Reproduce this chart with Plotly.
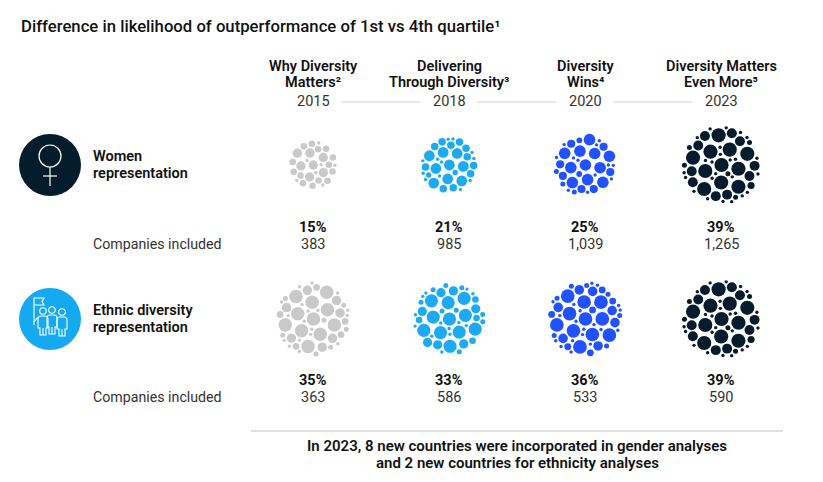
import numpy as np
import plotly.graph_objects as go

# ---------------- data ----------------
study_titles = [("Why Diversity", "Matters²"),
                ("Delivering", "Through Diversity³"),
                ("Diversity", "Wins⁴"),
                ("Diversity Matters", "Even More⁵")]
years = ["2015", "2018", "2020", "2023"]
women_pct = [15, 21, 25, 39]
women_companies = ["383", "985", "1,039", "1,265"]
ethnic_pct = [35, 33, 36, 39]
ethnic_companies = ["363", "586", "533", "590"]
row_labels = [("Women", "representation"), ("Ethnic diversity", "representation")]
title_text = "Difference in likelihood of outperformance of 1st vs 4th quartile¹"
foot_lines = ["In 2023, 8 new countries were incorporated in gender analyses",
              "and 2 new countries for ethnicity analyses"]

# ---------------- style / layout ----------------
W, H = 823, 482
OFF = 8  # page body margin compensation
colors = ["#c9c9c9", "#1cabf2", "#2251ff", "#051c2c"]
col_x = [313, 449, 585, 721]
row_y = [165, 319]
pct_y = [228, 381]
num_y = [245, 398]
R_SCALE = 6.4
FONT = "Roboto"
TXT = "#111111"


def pack(R):
    big = 0.16 * R + 0.7
    levels = [big, 0.7 * big, 0.5 * big, 2.5, 1.7]
    gap = 1.1
    n = 3000
    idx = np.arange(n)
    rr = R * np.sqrt((idx + 0.5) / n)
    th = idx * 2.399963229728653
    cx = rr * np.cos(th)
    cy = rr * np.sin(th)
    P = np.zeros((2000, 3))
    k = 0
    for li, r in enumerate(levels):
        for x, y in zip(cx, cy):
            if np.hypot(x, y) + r > R:
                continue
            if k:
                d = np.hypot(P[:k, 0] - x, P[:k, 1] - y)
                need = P[:k, 2] + r + gap
                if li == 0:
                    need = need + 2.0
                if np.any(d < need):
                    continue
            P[k] = (x, y, r)
            k += 1
    return P[:k]


fig = go.Figure()

for ri, pcts in enumerate([women_pct, ethnic_pct]):
    for ci, p in enumerate(pcts):
        R = R_SCALE * np.sqrt(p)
        P = pack(R)
        fig.add_trace(go.Scatter(
            x=col_x[ci] + P[:, 0], y=row_y[ri] + P[:, 1], mode="markers",
            marker=dict(size=2 * P[:, 2], color=colors[ci], line=dict(width=0), opacity=1),
            hoverinfo="skip", showlegend=False))

shapes = []
ann = []


def text(x, y, s, size=14, weight=400, xanchor="center", color=TXT):
    ann.append(dict(x=x, y=y, xref="x", yref="y", text=s, showarrow=False,
                    xanchor=xanchor, yanchor="middle",
                    font=dict(family=FONT, size=size, color=color, weight=weight)))


# title
text(19, 26, title_text, size=16.7, weight=500, xanchor="left")

# column headers
for ci in range(4):
    text(col_x[ci], 66, study_titles[ci][0], size=14.5, weight=600)
    text(col_x[ci], 82, study_titles[ci][1], size=14.5, weight=600)
    text(col_x[ci], 101, years[ci], size=14.5, weight=400, color="#333333")
for ci in range(3):
    shapes.append(dict(type="line", xref="x", yref="y", x0=col_x[ci] + 28, x1=col_x[ci + 1] - 29,
                       y0=102, y1=102, line=dict(color="#d0d0d0", width=1.2)))

# row labels and values
for ri in range(2):
    text(91, row_y[ri] - 9, row_labels[ri][0], size=14.5, weight=600, xanchor="left")
    text(91, row_y[ri] + 8, row_labels[ri][1], size=14.5, weight=600, xanchor="left")
    text(91, num_y[ri] - 1, "Companies included", size=14.2, weight=400, xanchor="left", color="#333333")
    pcts = [women_pct, ethnic_pct][ri]
    nums = [women_companies, ethnic_companies][ri]
    for ci in range(4):
        text(col_x[ci], pct_y[ri] - 1, f"{pcts[ci]}%", size=14.5, weight=700)
        text(col_x[ci], num_y[ri] - 1, nums[ci], size=14.5, weight=400, color="#333333")

# icons
ix, iy = 50, 165
shapes.append(dict(type="circle", xref="x", yref="y", x0=ix - 31, x1=ix + 31, y0=iy - 31, y1=iy + 31,
                   fillcolor="#051c2c", line=dict(width=0)))
shapes.append(dict(type="circle", xref="x", yref="y", x0=ix - 11, x1=ix + 11, y0=iy - 20, y1=iy + 2,
                   line=dict(color="white", width=1.2)))
shapes.append(dict(type="line", xref="x", yref="y", x0=ix, x1=ix, y0=iy + 2, y1=iy + 21,
                   line=dict(color="white", width=1.2)))
shapes.append(dict(type="line", xref="x", yref="y", x0=ix - 7, x1=ix + 7, y0=iy + 11, y1=iy + 11,
                   line=dict(color="white", width=1.2)))

ex, ey = 50, 319
shapes.append(dict(type="circle", xref="x", yref="y", x0=ex - 31, x1=ex + 31, y0=ey - 31, y1=ey + 31,
                   fillcolor="#14a9f0", line=dict(width=0)))
wl = dict(color="white", width=1.1)
# flag
shapes.append(dict(type="path", xref="x", yref="y",
                   path=f"M {ex-16},{ey+6} L {ex-16},{ey-21} L {ex-6},{ey-21} L {ex-8},{ey-17.5} L {ex-6},{ey-14} L {ex-16},{ey-14}",
                   line=wl))
heads = [(-7, -8), (2, -9), (12, -7)]
for hx, hy in heads:
    shapes.append(dict(type="circle", xref="x", yref="y", x0=ex + hx - 3.3, x1=ex + hx + 3.3,
                       y0=ey + hy - 3.3, y1=ey + hy + 3.3, line=wl))
# bodies
for hx, hy in heads:
    bx, by = ex + hx, ey + hy + 5
    shapes.append(dict(type="path", xref="x", yref="y",
                       path=(f"M {bx-5},{by+12} L {bx-5},{by+3} Q {bx-5},{by} {bx-2},{by} L {bx+2},{by} "
                             f"Q {bx+5},{by} {bx+5},{by+3} L {bx+5},{by+12} L {bx+3},{by+12} L {bx+3},{by+19} "
                             f"L {bx},{by+19} L {bx},{by+12} L {bx},{by+19} L {bx-3},{by+19} L {bx-3},{by+12} Z"),
                       line=wl))
# raised arm to pole
shapes.append(dict(type="path", xref="x", yref="y",
                   path=f"M {ex-12},{ey-2} L {ex-16},{ey+3}", line=wl))

# divider + footnote
shapes.append(dict(type="line", xref="x", yref="y", x0=251, x1=783, y0=431, y1=431,
                   line=dict(color="#d3d3d3", width=1.5)))
text(517, 446, foot_lines[0], size=15, weight=600)
text(517, 463, foot_lines[1], size=15, weight=600)

fig.update_layout(
    width=W, height=H, autosize=False,
    margin=dict(l=0, r=0, t=0, b=0, pad=0),
    paper_bgcolor="white", plot_bgcolor="white",
    xaxis=dict(range=[OFF, W + OFF], visible=False, fixedrange=True),
    yaxis=dict(range=[H + OFF, OFF], visible=False, fixedrange=True),
    shapes=shapes, annotations=ann, showlegend=False,
)
fig.write_html("out.html", config={"displayModeBar": False})
